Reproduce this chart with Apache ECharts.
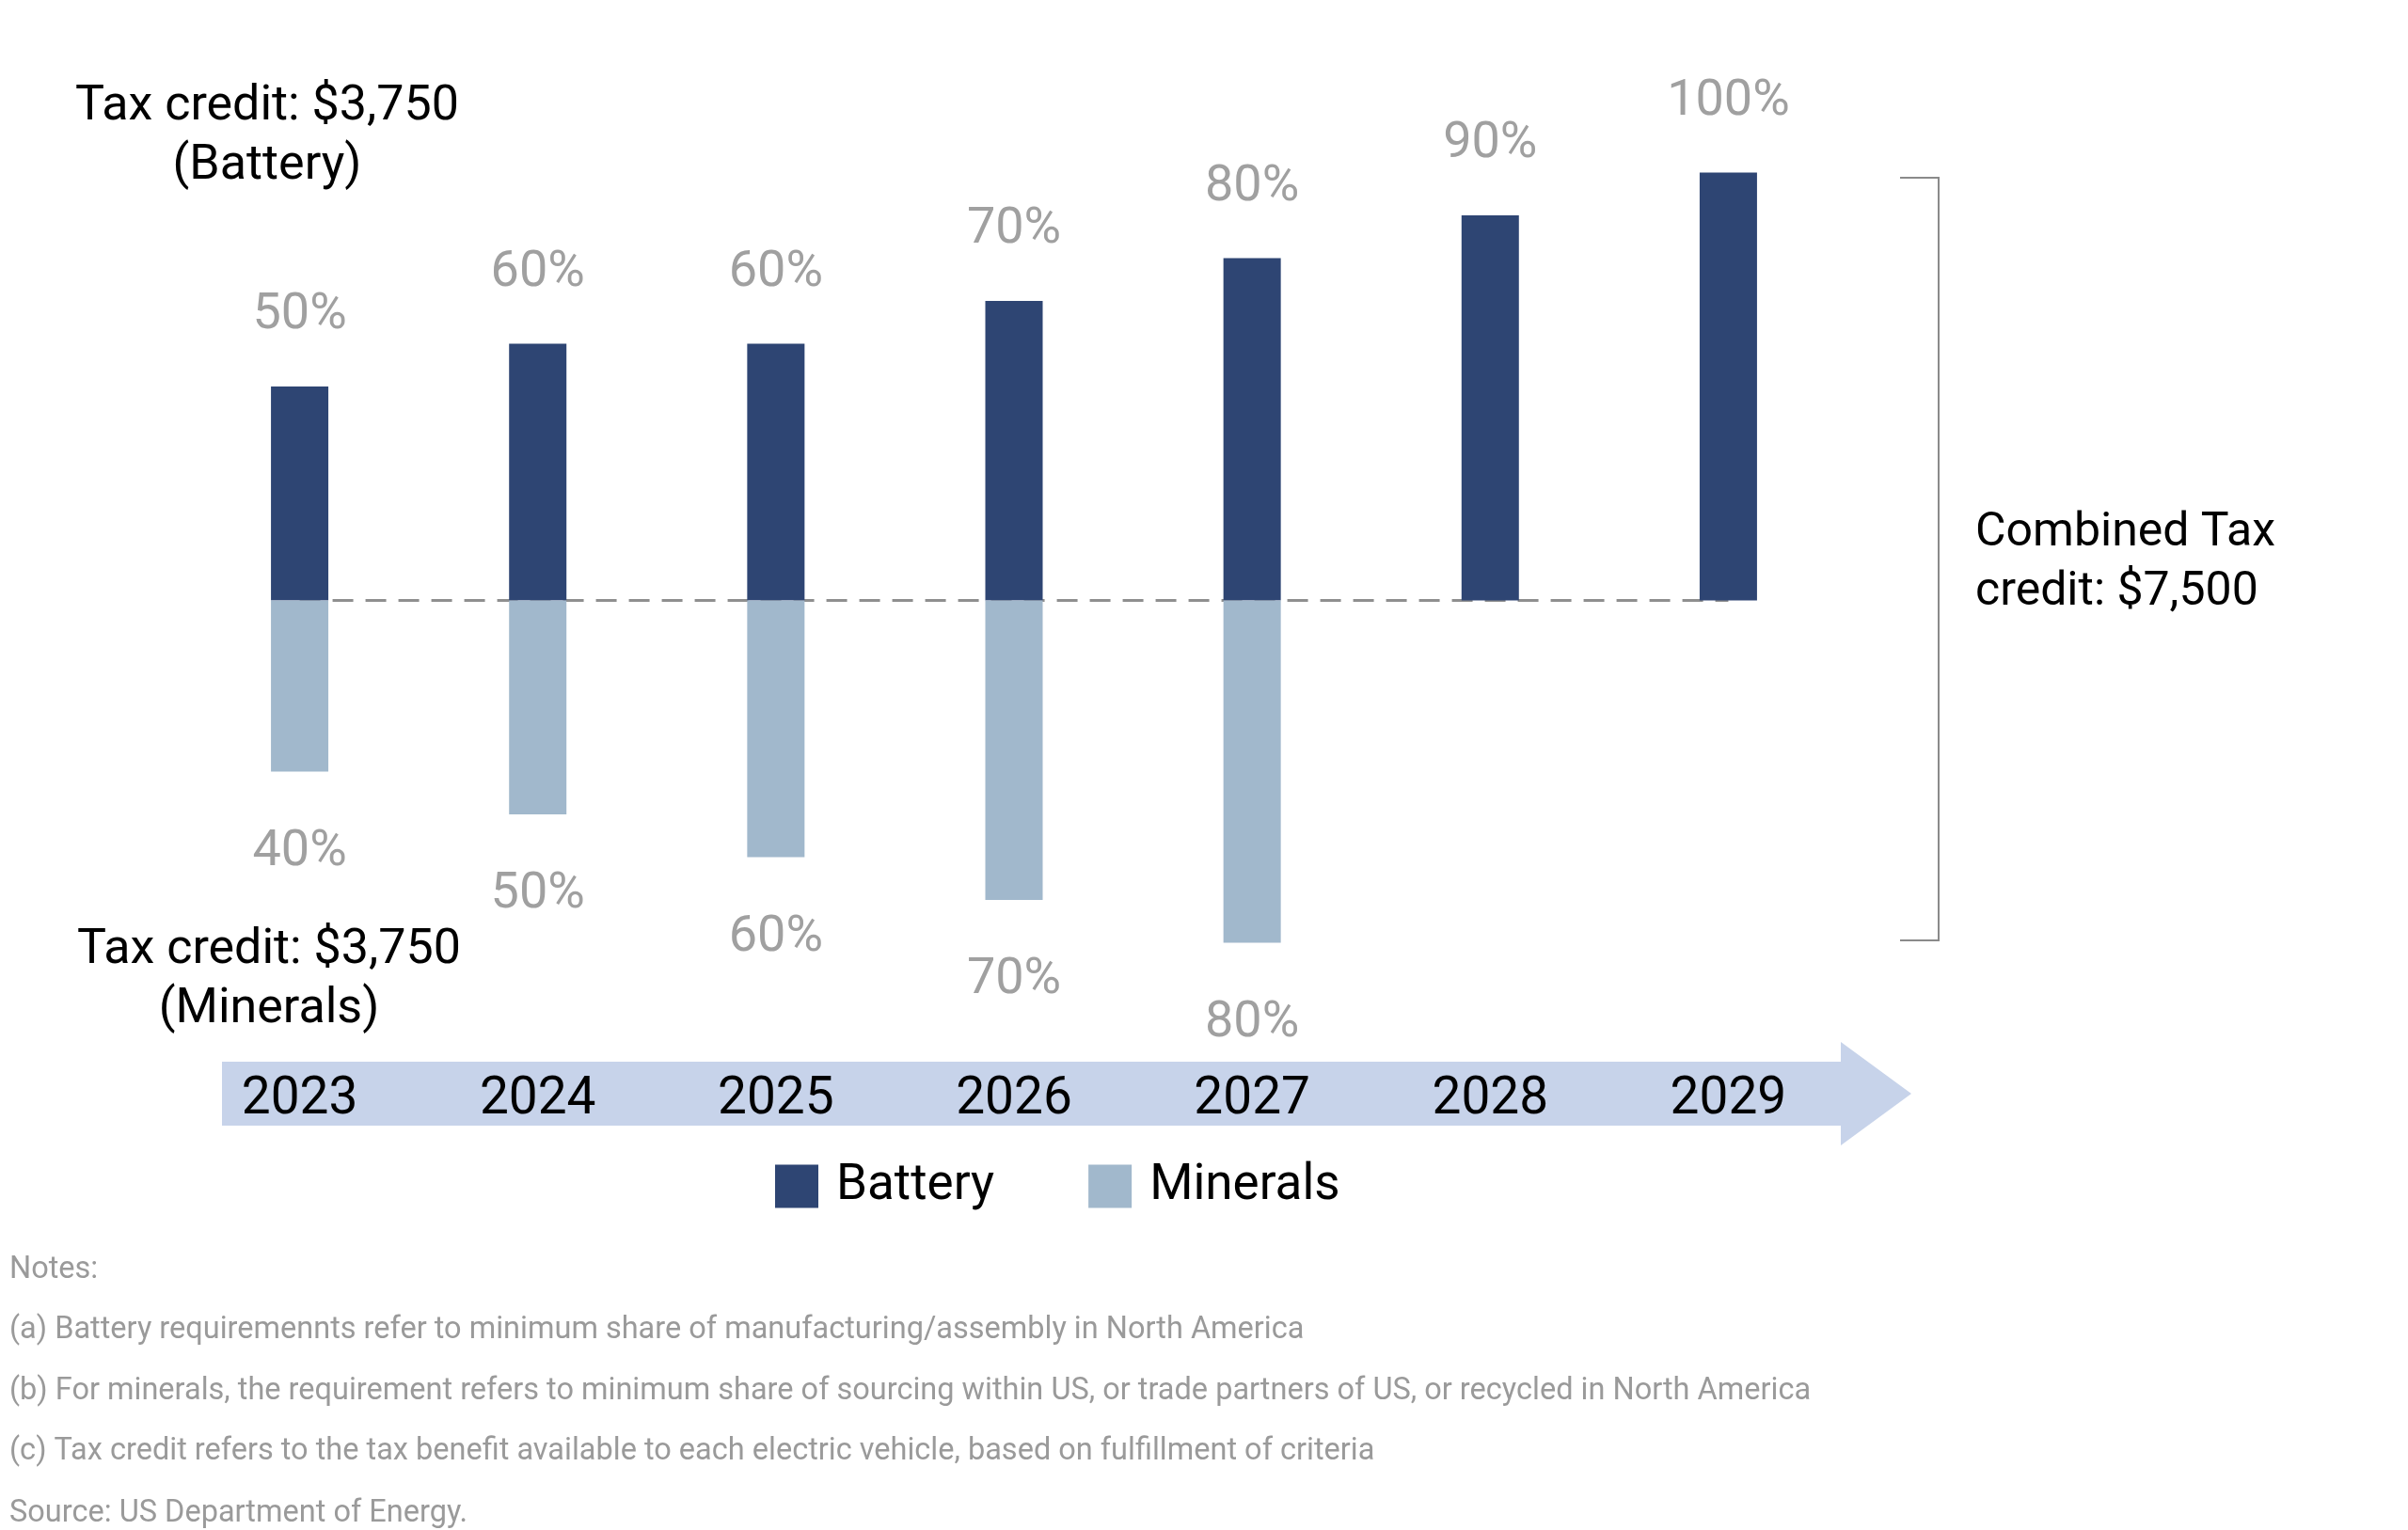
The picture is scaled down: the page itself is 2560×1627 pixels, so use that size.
<!DOCTYPE html>
<html>
<head>
<meta charset="utf-8">
<script src="https://cdn.jsdelivr.net/npm/echarts@6/dist/echarts.min.js"></script>
<style>
html,body{margin:0;padding:0;background:#fff;}
#chart{width:2560px;height:1627px;}
</style>
</head>
<body>
<div id="chart"></div>
<script>
const years = ['2023','2024','2025','2026','2027','2028','2029'];
const battery = [50, 60, 60, 70, 80, 90, 100];
const minerals = [40, 50, 60, 70, 80, null, null];
const notes = [
  'Notes:',
  '(a) Battery requiremennts refer to minimum share of manufacturing/assembly in North America',
  '(b) For minerals, the requirement refers to minimum share of sourcing within US, or trade partners of US, or recycled in North America',
  '(c) Tax credit refers to the tax benefit available to each electric vehicle, based on fulfillment of criteria',
  'Source: US Department of Energy.'
];

const FONT = 'Roboto';
const chart = echarts.init(document.getElementById('chart'), null, {renderer: 'canvas'});

const noteY = [1351, 1415, 1480, 1544, 1610];
const graphics = [
  {type:'polygon', z:0, shape:{points:[[236,1129],[1957,1129],[1957,1108],[2032,1163],[1957,1218],[1957,1197],[236,1197]]}, style:{fill:'#c7d3ea'}},
  {type:'polyline', shape:{points:[[2020,189],[2061,189],[2061,1000],[2020,1000]]}, style:{stroke:'#8a8a8a', lineWidth:2, fill:null}},
  {type:'text', left:2100, top:536, style:{text:'Combined Tax\ncredit: $7,500', font:'50px Roboto', fill:'#000', lineHeight:63}},
  {type:'text', x:284, y:82, style:{text:'Tax credit: $3,750\n(Battery)', font:'52px Roboto', fill:'#000', align:'center', lineHeight:63}},
  {type:'text', x:286, y:979, style:{text:'Tax credit: $3,750\n(Minerals)', font:'52px Roboto', fill:'#000', align:'center', lineHeight:63}}
];
notes.forEach((t,i)=>{
  graphics.push({type:'text', x:10, y:noteY[i], style:{text:t, font:'32.5px Roboto', fill:'#9a9a9a', verticalAlign:'middle'}});
});

chart.setOption({
  backgroundColor:'#fff',
  animation:false,
  textStyle:{fontFamily:FONT},
  grid:{left:192, right:596, top:183.4, bottom:1627-1093.4, containLabel:false},
  legend:{
    left:819, top:1230,
    itemWidth:46, itemHeight:46, itemGap:100,
    textStyle:{fontSize:53, color:'#000', fontFamily:FONT, padding:[0,0,0,14]},
    data:[{name:'Battery', icon:'rect'},{name:'Minerals', icon:'rect'}]
  },
  xAxis:{
    type:'category', data:years,
    axisLine:{show:false, onZero:false}, axisTick:{show:false},
    axisLabel:{fontSize:55, color:'#000', margin:77, verticalAlign:'middle', fontFamily:FONT}
  },
  yAxis:{
    type:'value', min:-100, max:100, show:false, splitLine:{show:false}
  },
  series:[
    {
      name:'Battery', type:'bar', stack:'s', barWidth:61,
      itemStyle:{color:'#2e4573'},
      data:battery,
      label:{show:true, position:'top', distance:48, formatter:'{c}%', fontSize:54, color:'#a0a0a0', fontFamily:FONT},
      markLine:{
        silent:true, symbol:'none', z:1,
        lineStyle:{color:'#8f8f8f', type:[22,13], width:3},
        label:{show:false},
        data:[[{coord:['2023',0]},{coord:['2029',0]}]]
      },
      z:3
    },
    {
      name:'Minerals', type:'bar', stack:'s', barWidth:61,
      itemStyle:{color:'#a1b8cc'},
      data:minerals.map(v=> v==null ? null : -v),
      label:{show:true, position:'bottom', distance:59, formatter:p=>Math.abs(p.value)+'%', fontSize:54, color:'#a0a0a0', fontFamily:FONT},
      z:3
    }
  ],
  graphic:graphics
});
</script>
</body>
</html>
